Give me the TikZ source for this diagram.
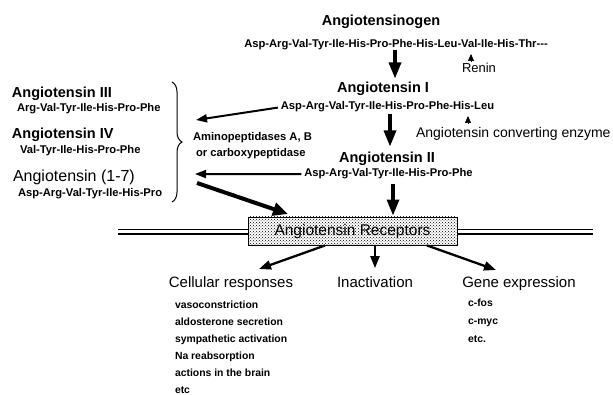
\documentclass[tikz,border=0pt]{standalone}
\usepackage{fontspec}
\setmainfont{Liberation Sans}
\usetikzlibrary{arrows.meta,decorations.pathreplacing,patterns,calc}
\begin{document}
\begin{tikzpicture}[x=1pt,y=-1pt,
  txt/.style={inner sep=0pt, outer sep=0pt},
  ttl/.style={txt, font=\fontsize{14.5}{16}\selectfont\bfseries},
  seq/.style={txt, font=\fontsize{11.2}{13}\selectfont\bfseries},
  lbl/.style={txt, font=\fontsize{15}{17}\selectfont},
  lst/.style={txt, font=\fontsize{10.4}{12}\selectfont\bfseries},
  bigarrow/.style={line width=3.2pt, -{Triangle[length=16pt,width=12pt]}},
  medarrow/.style={line width=2pt, -{Triangle[length=11pt,width=8pt]}},
  fatarrow/.style={line width=4pt, -{Triangle[length=15pt,width=13pt]}},
  outarrow/.style={line width=2.3pt, -{Triangle[length=12pt,width=9pt]}},
  tinytip/.style={line width=0.6pt, -{Triangle[length=7pt,width=6pt]}},
]
\fill[white] (0,0) rectangle (613,395);
\useasboundingbox (0,0) rectangle (613,395);

% main cascade
\node[ttl, anchor=base] (agen) at (381,26) {Angiotensinogen};
\node[seq, anchor=base] (seq0) at (396,48) {Asp-Arg-Val-Tyr-Ile-His-Pro-Phe-His-Leu-Val-Ile-His-Thr-{}-{}-};
\node[ttl, anchor=base] (ang1) at (383,93) {Angiotensin I};
\node[seq, anchor=base] (seq1) at (387.5,110) {Asp-Arg-Val-Tyr-Ile-His-Pro-Phe-His-Leu};
\node[ttl, anchor=base] (ang2) at (387,163) {Angiotensin II};
\node[seq, anchor=base] (seq2) at (388.5,177) {Asp-Arg-Val-Tyr-Ile-His-Pro-Phe};
\node[txt, font=\fontsize{13}{15}\selectfont, anchor=base west] (renin) at (462,73) {Renin};
\node[txt, font=\fontsize{14}{16}\selectfont, anchor=base west] (ace) at (416,138) {Angiotensin converting enzyme};

% left column
\node[ttl, anchor=base west] (ang3) at (12,98) {Angiotensin III};
\node[seq, anchor=base west] (seq3) at (17,112) {Arg-Val-Tyr-Ile-His-Pro-Phe};
\node[ttl, anchor=base west] (ang4) at (12,139) {Angiotensin IV};
\node[seq, anchor=base west] (seq4) at (20,154) {Val-Tyr-Ile-His-Pro-Phe};
\node[txt, font=\fontsize{16}{18}\selectfont, anchor=base west] (ang17) at (13,182) {Angiotensin (1-7)};
\node[seq, anchor=base west] (seq17) at (18,197) {Asp-Arg-Val-Tyr-Ile-His-Pro};

\draw[line width=1pt, decorate, decoration={brace, amplitude=10pt}] (172,82) -- (172,202);

\node[seq, anchor=base west] (amino1) at (193,141) {Aminopeptidases A, B};
\node[seq, anchor=base west] (amino2) at (196,157) {or carboxypeptidase};

% membrane and receptor box
\coordinate (mL1) at (118,230); \coordinate (mR1) at (593,230);
\coordinate (mL2) at (118,234); \coordinate (mR2) at (593,234);
\draw[line width=1pt] (mL1) -- (mR1);
\draw[line width=1.6pt] (mL2) -- (mR2);
\node[draw, line width=0.9pt, preaction={fill=white}, pattern=crosshatch dots, pattern color=black,
      minimum width=209pt, minimum height=28pt, inner sep=0pt,
      font=\fontsize{15.5}{17}\selectfont] (box) at (352.5,231) {Angiotensin Receptors};

% vertical arrows
\coordinate (c1) at (395,0);
\coordinate (c2) at (390,0);
\coordinate (c3) at (393,0);
\draw[bigarrow, shorten >=4pt] (seq0.south -| c1) -- (ang1.north -| c1);
\draw[bigarrow, shorten <=2pt, shorten >=6pt] (seq1.south -| c2) -- (ang2.north -| c2);
\draw[bigarrow, shorten <=5pt, shorten >=1pt] (seq2.south -| c3) -- (box.north -| c3);

% enzyme markers
\coordinate (rtip) at (471,54);
\coordinate (atip) at (468,116);
\draw[tinytip, shorten <=3pt] (renin.north -| rtip) -- (rtip);
\draw[tinytip, shorten <=4.5pt] (ace.north -| atip) -- (atip);

% arrows to the left
\coordinate (b1) at (196,120);
\coordinate (b2) at (195,174);
\coordinate (b3) at (197,183);
\coordinate (b4) at (288,214);
\draw[medarrow, shorten <=3pt] (seq1.west) -- (b1);
\draw[medarrow, shorten <=3pt] (seq2.west) -- (b2);
\draw[fatarrow] (b3) -- (b4);

% outputs
\node[lbl, anchor=base] (cell) at (231,288) {Cellular responses};
\node[lbl, anchor=base] (inact) at (375,288) {Inactivation};
\node[lbl, anchor=base] (gene) at (519,288) {Gene expression};
\coordinate (o1) at (325,0); \coordinate (t1) at (259,269);
\coordinate (o3) at (427,0); \coordinate (t3) at (496,270);
\draw[outarrow] (box.south -| o1) -- (t1);
\draw[outarrow, shorten >=9pt] (box.south -| inact) -- (inact.north);
\draw[outarrow] (box.south -| o3) -- (t3);

\foreach \t [count=\i] in {vasoconstriction, aldosterone secretion, sympathetic activation, Na reabsorption, actions in the brain, etc}
  \node[lst, anchor=base west] (cr\i) at (175,{308.5+17*(\i-1)}) {\t};
\foreach \t [count=\i] in {c-fos, c-myc, etc.}
  \node[lst, anchor=base west] (ge\i) at (468,{307+17.5*(\i-1)}) {\t};
\end{tikzpicture}
\end{document}
